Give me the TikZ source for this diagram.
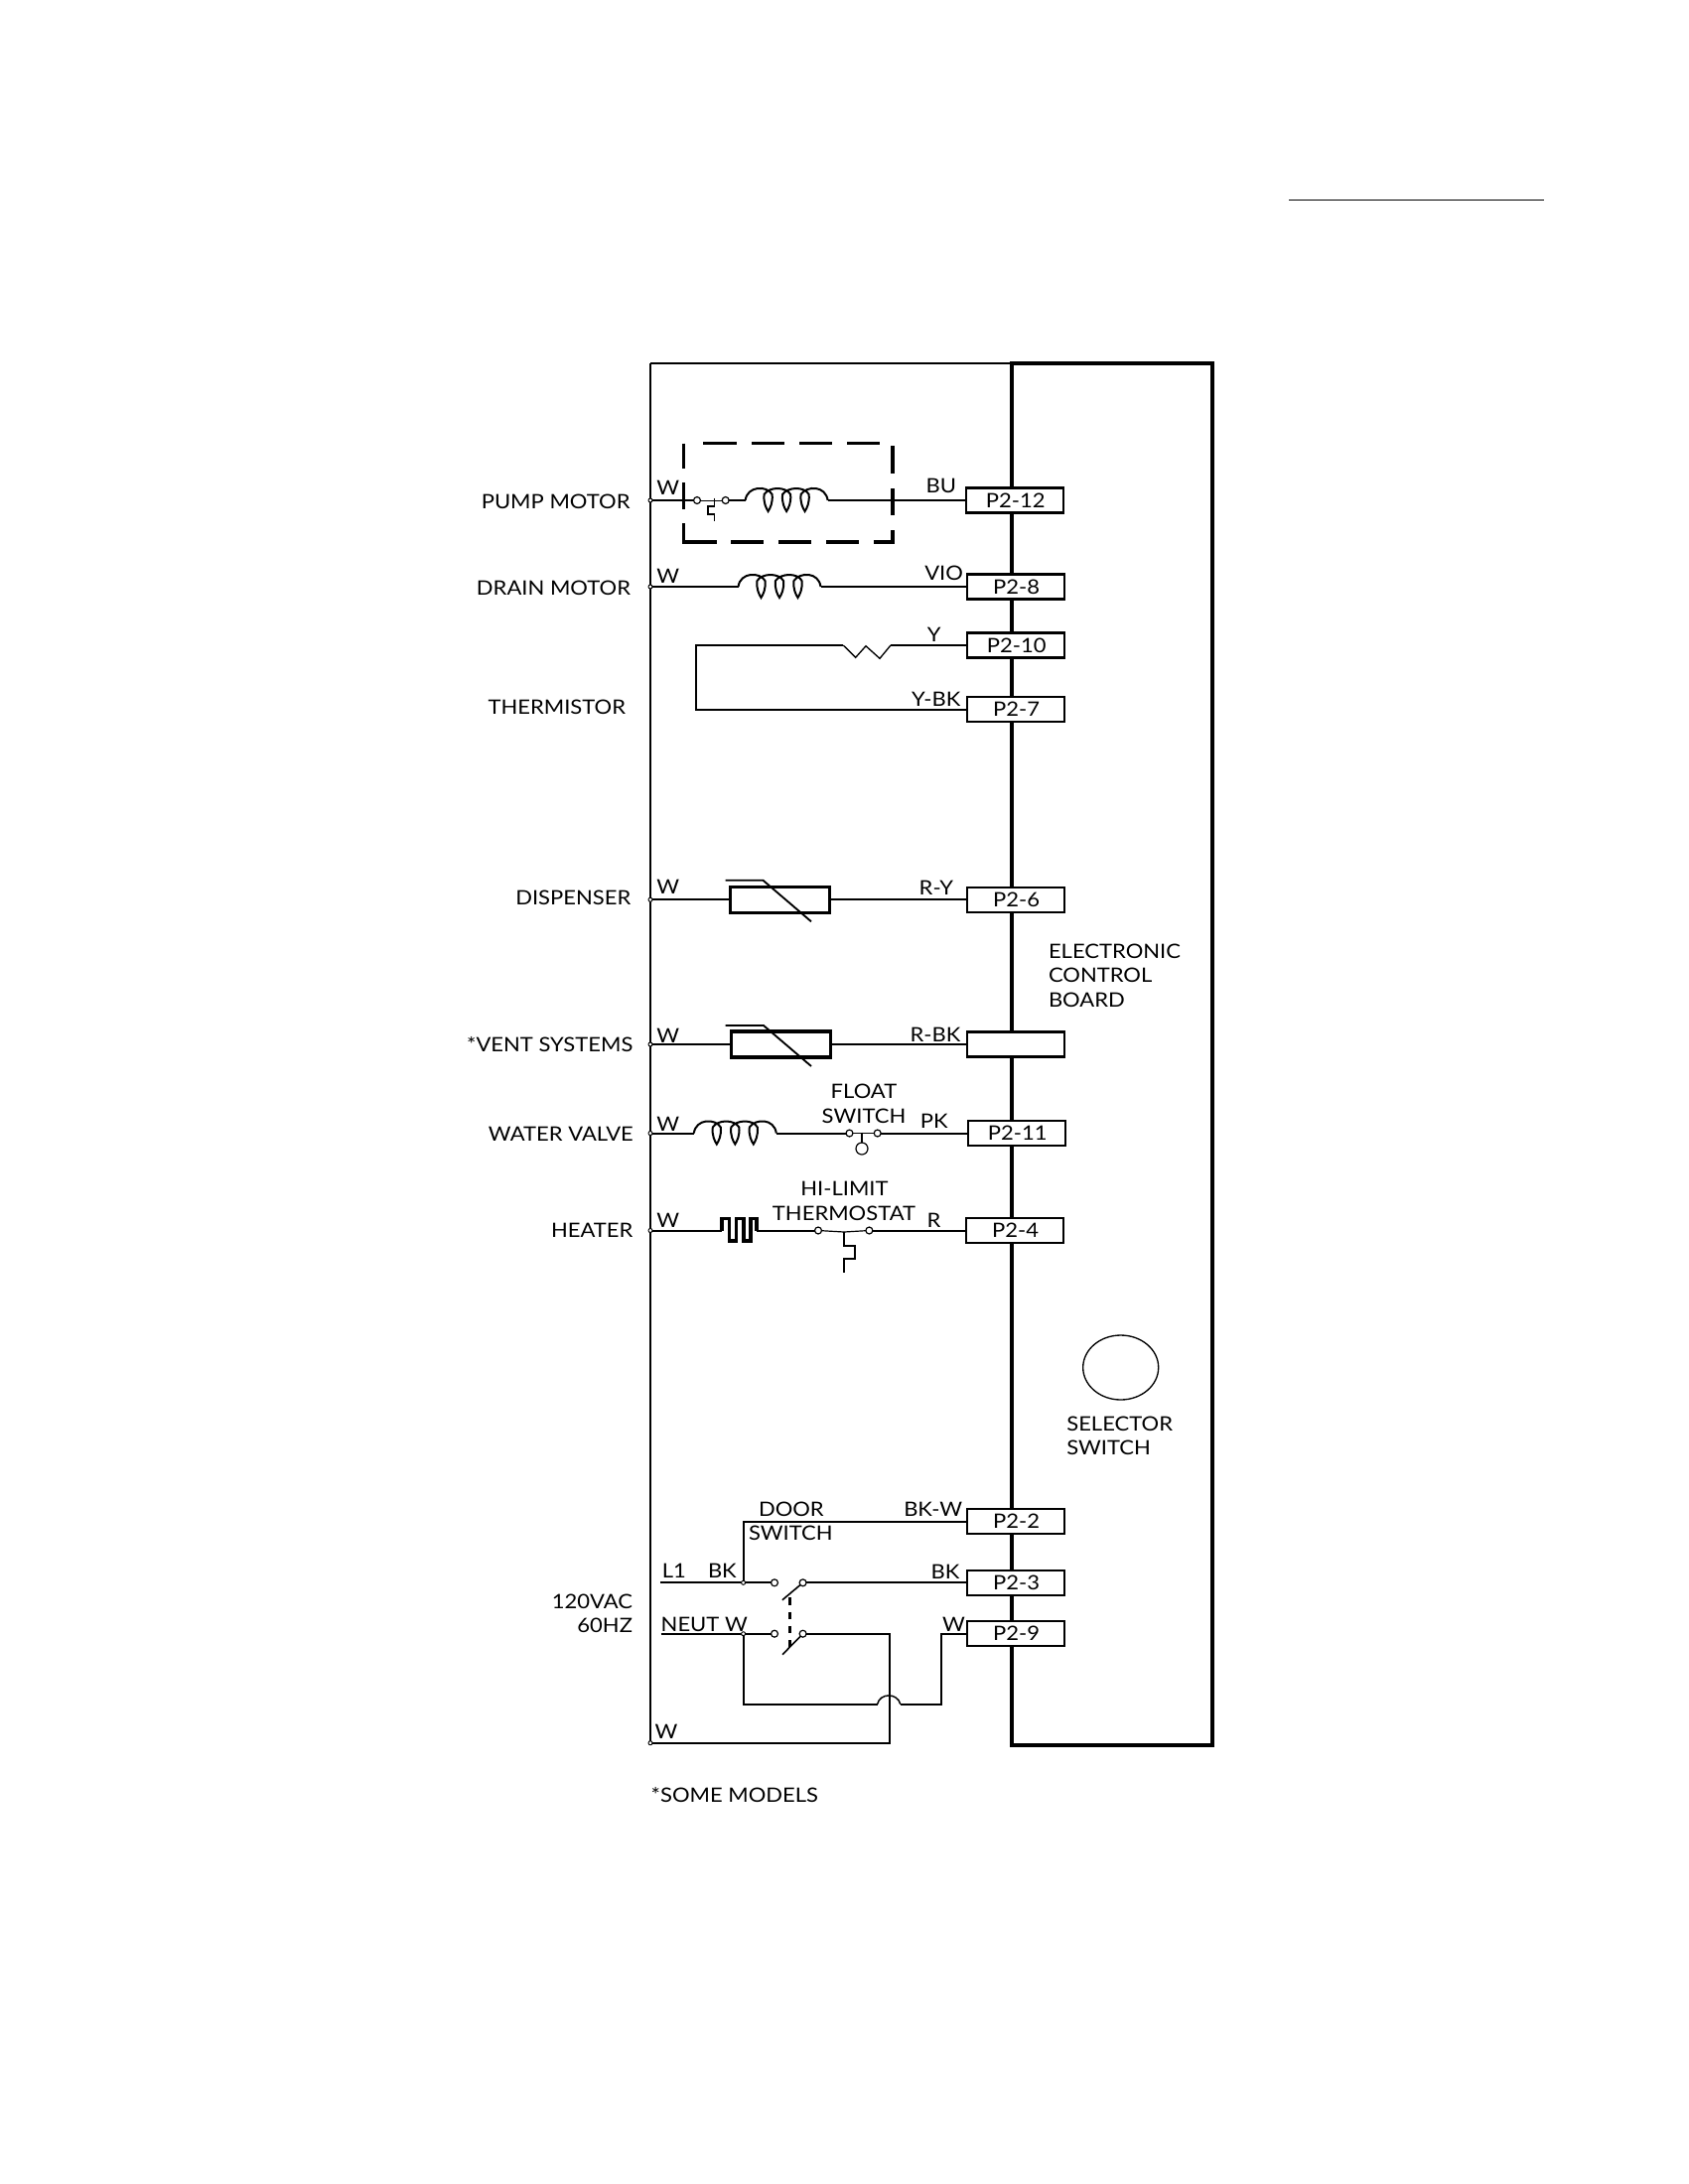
\documentclass[tikz,border=0pt]{standalone}
\usepackage{fontspec}
\usetikzlibrary{shapes.geometric}
\setmainfont[FakeStretch=1.1]{Lato}
\newcommand{\lblfont}{\fontsize{15}{18}\selectfont}
\newcommand{\tlb}[1]{\raisebox{-1.8pt}{\hspace{1pt}#1}}
\newcommand{\coilat}[3]{%
  \coordinate (#1-in) at (#2,#3);
  \coordinate (#1-out) at ([xshift=62.25pt]#1-in);
  \begin{scope}[shift={(#2,#3)}]
    \draw[wire]
      (0,0) .. controls (2,-15) and (22,-15) .. (27,-6)
      .. controls (28,2) and (25,8) .. (23,11)
      .. controls (21,8) and (18,2) .. (19,-6)
      .. controls (24,-14) and (41,-14) .. (45.5,-6)
      .. controls (46.5,2) and (43.5,8) .. (41.5,11)
      .. controls (39.5,8) and (36.5,2) .. (37.5,-6)
      .. controls (43,-14) and (60,-14) .. (64,-6)
      .. controls (65,2) and (62,8) .. (60,11)
      .. controls (58,8) and (55,2) .. (56,-6)
      .. controls (62,-15) and (81,-15) .. (83,0);
  \end{scope}}
\tikzset{
  wire/.style={line width=1.5pt,line join=miter},
  rail/.style={line width=3pt},
  term/.style={rectangle,draw,fill=white,line width=1.9pt,minimum width=73.5pt,minimum height=18.75pt,inner sep=0,outer sep=0,font=\lblfont},
  res/.style={rectangle,draw,fill=none,line width=2.5pt,minimum width=75pt,minimum height=19.5pt,inner sep=0,outer sep=0},
  contact/.style={circle,draw,fill=white,line width=0.9pt,minimum size=5.2pt,inner sep=0,outer sep=0},
  junction/.style={circle,draw,fill=white,line width=0.7pt,minimum size=3pt,inner sep=0,outer sep=0},
  lbl/.style={inner sep=0,outer sep=0,font=\lblfont},
  ptc/.style={line width=2.6pt}
}
\begin{document}
\begin{tikzpicture}[x=0.75pt,y=-0.75pt]
\path[use as bounding box] (0,0) rectangle (1700,2200);

% header rule
\coordinate (ruleL) at (1298,201.3);
\coordinate (ruleR) at (1555,201.3);
\draw[line width=1.2pt] (ruleL) -- (ruleR);

% frame
\coordinate (tl) at (655,366);
\coordinate (bl) at (655,1755.7);
\coordinate (tm) at (1019,366);
\coordinate (tr) at (1220.5,366);
\coordinate (bm) at (1019,1757.5);
\coordinate (br) at (1220.5,1757.5);
\draw[line width=1.1pt] (tl) -- (bl);
\draw[line width=1.9pt] (tl) -- (tr);
\draw[rail,line join=miter] (tm) -- (bm) -- (br) -- (tr) -- cycle;

% terminals
\node[term] (P212) at (1022,504) {\tlb{P2-12}};
\node[term] (P28)  at (1023,591) {\tlb{P2-8}};
\node[term] (P210) at (1023,650) {\tlb{P2-10}};
\node[term] (P27)  at (1023,714.7) {\tlb{P2-7}};
\node[term] (P26)  at (1023,906.3) {\tlb{P2-6}};
\node[term] (Pvnt) at (1023,1052) {};
\node[term] (P211) at (1024,1141.5) {\tlb{P2-11}};
\node[term] (P24)  at (1022,1239.5) {\tlb{P2-4}};
\node[term] (P22)  at (1023,1532.5) {\tlb{P2-2}};
\node[term] (P23)  at (1023,1594.3) {\tlb{P2-3}};
\node[term] (P29)  at (1023,1645.7) {\tlb{P2-9}};

% rail junctions
\foreach \n/\yy in {a/504,b/591,c/906.3,d/1052,e/1141.5,f/1239.5}
  \coordinate (rail\n) at (655,\yy);

% pump motor
\draw[ptc]
  (688.4,446.7) -- (688.4,471.7)
  (688.4,486) -- (688.4,513)
  (688.4,527) -- (688.4,546) -- (721.6,546)
  (736,546) -- (769,546)
  (784,546) -- (817,546)
  (832,546) -- (864.6,546)
  (880,546) -- (899,546) -- (899,534)
  (899,519) -- (899,491.7)
  (899,477) -- (899,449)
  (708,446.7) -- (741.5,446.7)
  (757,446.7) -- (790,446.7)
  (805,446.7) -- (837.6,446.7)
  (853,446.7) -- (886,446.7);
\coilat{cp}{750.6}{504}
\node[contact] (pc1) at (702,504) {};
\node[contact] (pc2) at (730.7,504) {};
\draw[wire] (raila) -- (pc1);
\draw[wire] (pc2) -- (cp-in);
\draw[wire] (cp-out) -- (P212.west);
\draw[line width=0.7pt] (pc1) -- (pc2);
\draw[line width=1.1pt] (719.5,501.5) -- (719.5,510) -- (713,510) -- (713,518) -- (719.5,518) -- (719.5,525);
\node[junction] (ja) at (raila) {};

% drain motor
\coilat{cd}{743.5}{591}
\draw[wire] (railb) -- (cd-in);
\draw[wire] (cd-out) -- (P28.west);
\node[junction] (jb) at (railb) {};

% thermistor
\coordinate (thA) at (897,650);
\coordinate (thB) at (849.3,650);
\coordinate (thC) at (700.8,650);
\coordinate (thD) at (700.8,714.7);
\draw[wire] (P210.west) -- (thA);
\draw[line width=1pt] (thA) -- (886,663.3) -- (872,650.7) -- (861.7,662.3) -- (thB);
\draw[wire,line join=miter] (thB) -- (thC) -- (thD) -- (P27.west);

% dispenser
\node[res] (rd) at (785.3,906.3) {};
\draw[wire] (railc) -- (rd.west);
\draw[wire] (rd.east) -- (P26.west);
\coordinate (rdA) at (730.7,886.7);
\coordinate (rdB) at (768.4,886.7);
\coordinate (rdC) at (817,928.3);
\draw[line width=1.4pt] (rdA) -- (rdB) -- (rdC);
\node[junction] (jc) at (railc) {};

% vent
\node[res] (rv) at (786.2,1052) {};
\draw[wire] (raild) -- (rv.west);
\draw[wire] (rv.east) -- (Pvnt.west);
\coordinate (rvA) at (730.7,1033);
\coordinate (rvB) at (769,1033);
\coordinate (rvC) at (817,1074);
\draw[line width=1.4pt] (rvA) -- (rvB) -- (rvC);
\node[junction] (jd) at (raild) {};

% water valve, float switch
\coilat{cw}{698.8}{1141.5}
\node[contact] (fc1) at (855.5,1141.5) {};
\node[contact] (fc2) at (883.7,1141.5) {};
\node[contact,minimum size=9pt] (fb) at (868,1157) {};
\draw[wire] (raile) -- (cw-in);
\draw[wire] (cw-out) -- (fc1);
\draw[wire] (fc2) -- (P211.west);
\draw[line width=0.7pt] (fc1) -- (fc2);
\draw[line width=0.9pt] (868,1140.5) -- (fb);
\node[junction] (je) at (raile) {};

% heater, hi-limit
\coordinate (hA) at (727,1239.5);
\coordinate (hB) at (762,1239.5);
\node[contact] (hc1) at (824,1239.5) {};
\node[contact] (hc2) at (875.4,1239.5) {};
\draw[wire] (railf) -- (hA);
\draw[line width=2.5pt,line join=miter] (hA) -- (727,1227.7) -- (734.4,1227.7) -- (734.4,1250) -- (741.5,1250) -- (741.5,1227.7) -- (749,1227.7) -- (749,1250) -- (756,1250) -- (756,1227.7) -- (762,1227.7) -- (hB);
\draw[wire] (hB) -- (hc1);
\draw[wire] (hc2) -- (P24.west);
\draw[line width=0.9pt] (hc1) -- (850,1241) -- (hc2);
\draw[line width=1.1pt] (850,1241) -- (850,1255) -- (861,1255) -- (861,1268) -- (850,1268) -- (850,1281.7);
\node[junction] (jf) at (railf) {};

% line input and switches
\coordinate (lA) at (665,1594.3);
\coordinate (nA) at (665.7,1645.7);
\coordinate (dsJ) at (748.6,1594.3);
\coordinate (dsT) at (748.6,1532.5);
\coordinate (nJ) at (748.6,1645.7);
\node[contact] (s1a) at (780,1594.3) {};
\node[contact] (s1b) at (808.6,1594.3) {};
\node[contact] (s2a) at (780,1645.7) {};
\node[contact] (s2b) at (808.6,1645.7) {};
\coordinate (s1e) at (787.9,1611.7);
\coordinate (s2e) at (788,1666.7);
\draw[wire] (lA) -- (s1a);
\draw[wire] (s1b) -- (P23.west);
\draw[wire,line join=miter] (dsJ) -- (dsT) -- (P22.west);
\draw[line width=1.2pt] (s1b) -- (s1e);
\draw[line width=1.2pt] (s2b) -- (s2e);
\draw[line width=2.25pt,dash pattern=on 5.5pt off 5.2pt] (795.4,1609.3) -- (795.4,1659);
\draw[wire] (nA) -- (s2a);
\coordinate (n1) at (896,1645.7);
\coordinate (n2) at (896,1755.7);
\draw[wire,line join=miter] (s2b) -- (n1) -- (n2) -- (bl);
\coordinate (m1) at (748.6,1716.7);
\coordinate (m2) at (883.6,1716.7);
\coordinate (m3) at (906.8,1716.7);
\coordinate (m4) at (947.9,1716.7);
\coordinate (m5) at (947.9,1645.7);
\draw[wire,line join=miter] (nJ) -- (m1) -- (m2);
\draw[line width=1.1pt] (m2) .. controls (886,1705) and (904,1705) .. (m3);
\draw[wire,line join=miter] (m3) -- (m4) -- (m5) -- (P29.west);
\node[junction] (jl) at (dsJ) {};
\node[junction] (jn) at (nJ) {};
\node[junction] (jg) at (bl) {};

% selector
\node[ellipse,draw,line width=1pt,minimum width=57pt,minimum height=48.75pt,inner sep=0] (sel) at (1128.7,1377.5) {};

% labels, right aligned
\foreach \nm/\xx/\yy/\tx in {
  lp/634.5/512.5/PUMP MOTOR,
  ld/635/599/DRAIN MOTOR,
  lt/630/719/THERMISTOR,
  ldi/635.3/911.7/DISPENSER,
  lv/637.4/1059/*VENT SYSTEMS,
  lw/637.8/1149/WATER VALVE,
  lh/637.4/1246.7/HEATER,
  lv1/637/1620/120VAC,
  lv2/637/1644.3/60HZ,
  wbu/963/496/BU,
  wvi/970/584/VIO,
  wy/947.5/646.7/Y,
  wyb/967.4/711.7/Y-BK,
  wry/960/901/R-Y,
  wrb/967.4/1049/R-BK,
  wpk/954.6/1136.7/PK,
  wr/947.5/1236.7/R,
  wbw/969/1527.3/BK-W,
  wbk/966.4/1590/BK,
  wn/971.8/1643.3/W}
  \node[lbl,anchor=base east] (\nm) at (\xx,\yy) {\tx};

% labels, left aligned
\foreach \nm/\xx/\yy/\tx in {
  w1/661.4/498/W,
  w2/661.4/587.7/W,
  w3/661.4/900.7/W,
  w4/661.4/1050/W,
  w5/661.4/1139.3/W,
  w6/661.4/1236.7/W,
  w7/659.6/1751.7/W,
  tl1/666.8/1589/L1,
  tbk/713/1589/BK,
  tne/665.7/1643.3/NEUT W,
  tdo/764/1527.3/DOOR,
  tsw/754/1551.7/SWITCH,
  tec/1056/965/ELECTRONIC,
  tco/1056/989.3/CONTROL,
  tbo/1056/1014.3/BOARD,
  tse/1074.3/1441.7/SELECTOR,
  tss/1074.3/1465.7/SWITCH,
  tsm/655.7/1815/*SOME MODELS}
  \node[lbl,anchor=base west] (\nm) at (\xx,\yy) {\tx};

% labels, centred
\foreach \nm/\xx/\yy/\tx in {
  tfl/870/1106.7/FLOAT,
  tfs/870/1131/SWITCH,
  thl/850.5/1204/HI-LIMIT,
  tht/850/1229/THERMOSTAT}
  \node[lbl,anchor=base] (\nm) at (\xx,\yy) {\tx};
\end{tikzpicture}
\end{document}
